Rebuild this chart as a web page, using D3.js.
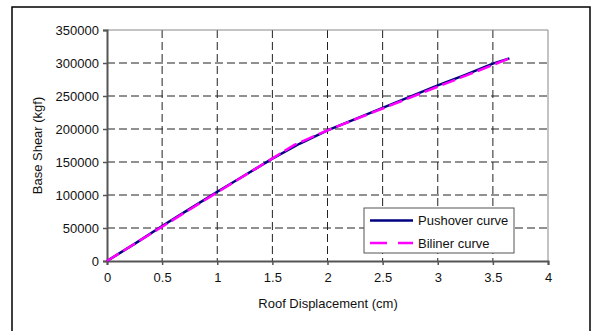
<!DOCTYPE html>
<html>
<head>
<meta charset="utf-8">
<script src="https://cdn.jsdelivr.net/npm/d3@7"></script>
<style>
  body { margin: 0; background: #fff; }
  text { font-family: "Liberation Sans", Arial, sans-serif; }
</style>
</head>
<body>
<div id="chart"></div>
<script>
// Data
var pushoverX = [0, 0.25, 0.5, 0.75, 1.0, 1.25, 1.5, 1.75, 2.0, 2.25, 2.5, 2.75, 3.0, 3.25, 3.5, 3.65];
var pushoverY = [0, 26000, 53000, 79000, 105000, 130000, 155000, 178000, 198000, 215000, 232000, 249000, 266000, 282000, 299000, 307000];
var bilinerX = [0, 1.0, 1.7, 2.0, 3.65];
var bilinerY = [0, 104000, 176000, 198000, 307000];
var xTicks = [0, 0.5, 1, 1.5, 2, 2.5, 3, 3.5, 4];
var yTicks = [0, 50000, 100000, 150000, 200000, 250000, 300000, 350000];
var seriesNames = ["Pushover curve", "Biliner curve"];

var W = 593, H = 331;
var margin = { top: 30, right: 45, bottom: 70, left: 107 },
    width = 548 - margin.left,
    height = 261 - margin.top;

var svg = d3.select("#chart")
    .append("svg")
    .attr("width", W)
    .attr("height", H);

// outer chart border
svg.append("rect")
    .attr("x", 12).attr("y", 7)
    .attr("width", 578).attr("height", 340)
    .attr("fill", "none")
    .attr("stroke", "#000")
    .attr("stroke-width", 1.5);

var g = svg.append("g")
    .attr("transform", "translate(" + margin.left + "," + margin.top + ")");

var x = d3.scaleLinear().domain([0, 4]).range([0, width]);
var y = d3.scaleLinear().domain([0, 350000]).range([height, 0]);

// grid lines
g.selectAll(".hgrid")
    .data(yTicks.filter(function (d) { return d > 0 && d < 350000; }))
    .enter().append("line")
    .attr("x1", 0).attr("x2", width)
    .attr("y1", function (d) { return y(d); })
    .attr("y2", function (d) { return y(d); })
    .attr("stroke", "#222")
    .attr("stroke-dasharray", "8,4");

g.selectAll(".vgrid")
    .data(xTicks.filter(function (d) { return d > 0 && d < 4; }))
    .enter().append("line")
    .attr("y1", 0).attr("y2", height)
    .attr("x1", function (d) { return x(d); })
    .attr("x2", function (d) { return x(d); })
    .attr("stroke", "#222")
    .attr("stroke-dasharray", "8,4");

// plot area top/right border
g.append("path")
    .attr("d", "M0,0H" + width + "V" + height)
    .attr("fill", "none")
    .attr("stroke", "#888")
    .attr("stroke-width", 1);

// axes
var xAxis = g.append("g")
    .attr("transform", "translate(0," + height + ")")
    .call(d3.axisBottom(x).tickValues(xTicks).tickSize(4).tickPadding(8)
        .tickFormat(function (d) { return String(d); }));
var yAxis = g.append("g")
    .call(d3.axisLeft(y).tickValues(yTicks).tickSize(4).tickPadding(4)
        .tickFormat(function (d) { return String(d); }));

[xAxis, yAxis].forEach(function (a) {
    a.select(".domain").attr("stroke", "#555").attr("stroke-width", 2);
    a.selectAll(".tick line").attr("stroke", "#555").attr("stroke-width", 1.5);
    a.selectAll(".tick text")
        .attr("fill", "#111")
        .style("font-size", "13px")
        .style("font-family", "Liberation Sans, Arial, sans-serif");
});

// curves
var line = d3.line()
    .x(function (d) { return x(d[0]); })
    .y(function (d) { return y(d[1]); });

var pushover = pushoverX.map(function (d, i) { return [d, pushoverY[i]]; });
var biliner = bilinerX.map(function (d, i) { return [d, bilinerY[i]]; });

g.append("path")
    .datum(pushover)
    .attr("d", line)
    .attr("fill", "none")
    .attr("stroke", "#000080")
    .attr("stroke-width", 2.5);

g.append("path")
    .datum(biliner)
    .attr("d", line)
    .attr("fill", "none")
    .attr("stroke", "#ff00ff")
    .attr("stroke-width", 2.5)
    .attr("stroke-dasharray", "14,5");

// axis titles
svg.append("text")
    .attr("x", 328).attr("y", 308)
    .attr("text-anchor", "middle")
    .style("font-size", "13px")
    .attr("fill", "#111")
    .text("Roof Displacement (cm)");

svg.append("text")
    .attr("transform", "translate(42," + (margin.top + height / 2) + ") rotate(-90)")
    .attr("text-anchor", "middle")
    .style("font-size", "13px")
    .attr("fill", "#111")
    .text("Base Shear (kgf)");

// legend
var legend = svg.append("g").attr("transform", "translate(364,208)");
legend.append("rect")
    .attr("width", 150).attr("height", 45)
    .attr("fill", "#fff")
    .attr("stroke", "#555")
    .attr("stroke-width", 1);

var legendStyles = [
    { color: "#000080", dash: null },
    { color: "#ff00ff", dash: "17,11" }
];
seriesNames.forEach(function (name, i) {
    var ly = 12.5 + i * 22.5;
    legend.append("line")
        .attr("x1", 6).attr("x2", 49)
        .attr("y1", ly).attr("y2", ly)
        .attr("stroke", legendStyles[i].color)
        .attr("stroke-width", 2.5)
        .attr("stroke-dasharray", legendStyles[i].dash);
    legend.append("text")
        .attr("x", 54).attr("y", ly + 4.5)
        .style("font-size", "13px")
        .attr("fill", "#111")
        .text(name);
});
</script>
</body>
</html>
